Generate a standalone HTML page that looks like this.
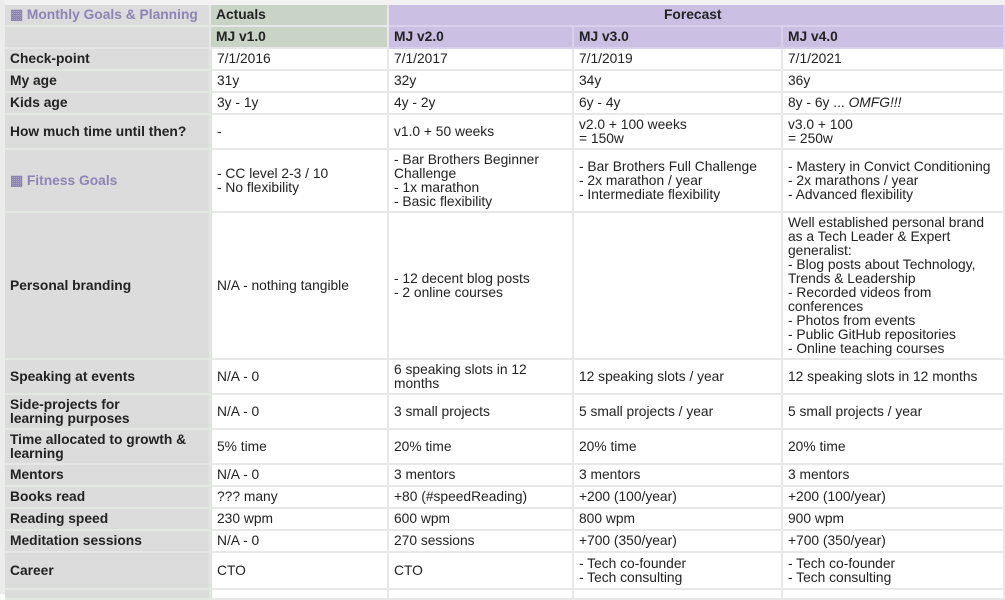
<!DOCTYPE html>
<html><head><meta charset="utf-8"><style>
body{margin:0;width:1005px;height:594px;overflow:hidden;background:#fff;font-family:"Liberation Sans",Arial,sans-serif;font-size:13.8px;color:#222;position:relative}
.c{position:absolute;box-sizing:border-box;display:flex;flex-direction:column;justify-content:center;padding:0 5px;line-height:14px;border-right:2px solid #e8e8e8;border-bottom:2px solid #e8e8e8;white-space:nowrap}
.h{background:#dcdcdc;font-weight:bold;border-color:#e4e8e2}
.g{background:#c9d4c6;font-weight:bold}
.p{background:#cbbfe4;font-weight:bold;border-color:#d9d0ee}
.t{color:#8e83b5;font-weight:bold}
</style></head><body>
<div style="position:absolute;left:0;top:0;width:1005px;height:5px;background:#f2f2f2"></div>
<div style="position:absolute;left:0;top:0;width:5px;height:594px;background:#ececec"></div>
<div id="grid"></div>
<script>
const xs=[5,211,389,574,783,1005];
const rows=[
[5,27],[27,49],[49,71],[71,93],[93,115],[115,150],[150,213],[213,360],[360,395],[395,430],[430,465],[465,487],[487,509],[509,531],[531,553],[553,590],[590,600]];
const labels=["▦ Monthly Goals &amp; Planning","","Check-point","My age","Kids age","How much time until then?","▦ Fitness Goals","Personal branding","Speaking at events","Side-projects for<br>learning purposes","Time allocated to growth &amp;<br>learning","Mentors","Books read","Reading speed","Meditation sessions","Career",""];
const body=[
null,null,
["7/1/2016","7/1/2017","7/1/2019","7/1/2021"],
["31y","32y","34y","36y"],
["3y - 1y","4y - 2y","6y - 4y","8y - 6y ... <i>OMFG!!!</i>"],
["-","v1.0 + 50 weeks","v2.0 + 100 weeks<br>= 150w","v3.0 + 100<br>= 250w"],
["- CC level 2-3 / 10<br>- No flexibility","- Bar Brothers Beginner<br>Challenge<br>- 1x marathon<br>- Basic flexibility","- Bar Brothers Full Challenge<br>- 2x marathon / year<br>- Intermediate flexibility","- Mastery in Convict Conditioning<br>- 2x marathons / year<br>- Advanced flexibility"],
["N/A - nothing tangible","- 12 decent blog posts<br>- 2 online courses","","Well established personal brand<br>as a Tech Leader &amp; Expert<br>generalist:<br>- Blog posts about Technology,<br>Trends &amp; Leadership<br>- Recorded videos from<br>conferences<br>- Photos from events<br>- Public GitHub repositories<br>- Online teaching courses"],
["N/A - 0","6 speaking slots in 12<br>months","12 speaking slots / year","12 speaking slots in 12 months"],
["N/A - 0","3 small projects","5 small projects / year","5 small projects / year"],
["5% time","20% time","20% time","20% time"],
["N/A - 0","3 mentors","3 mentors","3 mentors"],
["??? many","+80 (#speedReading)","+200 (100/year)","+200 (100/year)"],
["230 wpm","600 wpm","800 wpm","900 wpm"],
["N/A - 0","270 sessions","+700 (350/year)","+700 (350/year)"],
["CTO","CTO","- Tech co-founder<br>- Tech consulting","- Tech co-founder<br>- Tech consulting"],
["","","",""]];
const g=document.getElementById('grid');
function cell(x0,x1,y0,y1,html,cls,style){
 const d=document.createElement('div');
 d.className='c '+cls;
 d.style.left=x0+'px';d.style.top=y0+'px';d.style.width=(x1-x0)+'px';d.style.height=(y1-y0)+'px';
 if(style)d.style.cssText+=style;
 d.innerHTML='<span>'+html+'</span>';
 
 
 g.appendChild(d);return d;
}
rows.forEach((r,i)=>{
 cell(xs[0],xs[1],r[0],r[1],labels[i],'h'+((i==0||i==6)?' t':''));
 if(i==0){cell(xs[1],xs[2],r[0],r[1],'Actuals','g');cell(xs[2],xs[5],r[0],r[1],'Forecast','p','padding-left:275px');}
 else if(i==1){cell(xs[1],xs[2],r[0],r[1],'MJ v1.0','g');['MJ v2.0','MJ v3.0','MJ v4.0'].forEach((t,k)=>cell(xs[k+2],xs[k+3],r[0],r[1],t,'p'));}
 else body[i].forEach((t,k)=>cell(xs[k+1],xs[k+2],r[0],r[1],t,'',k==0?'border-left:1px solid #d6e2d0':''));
});
</script>
</body></html>
